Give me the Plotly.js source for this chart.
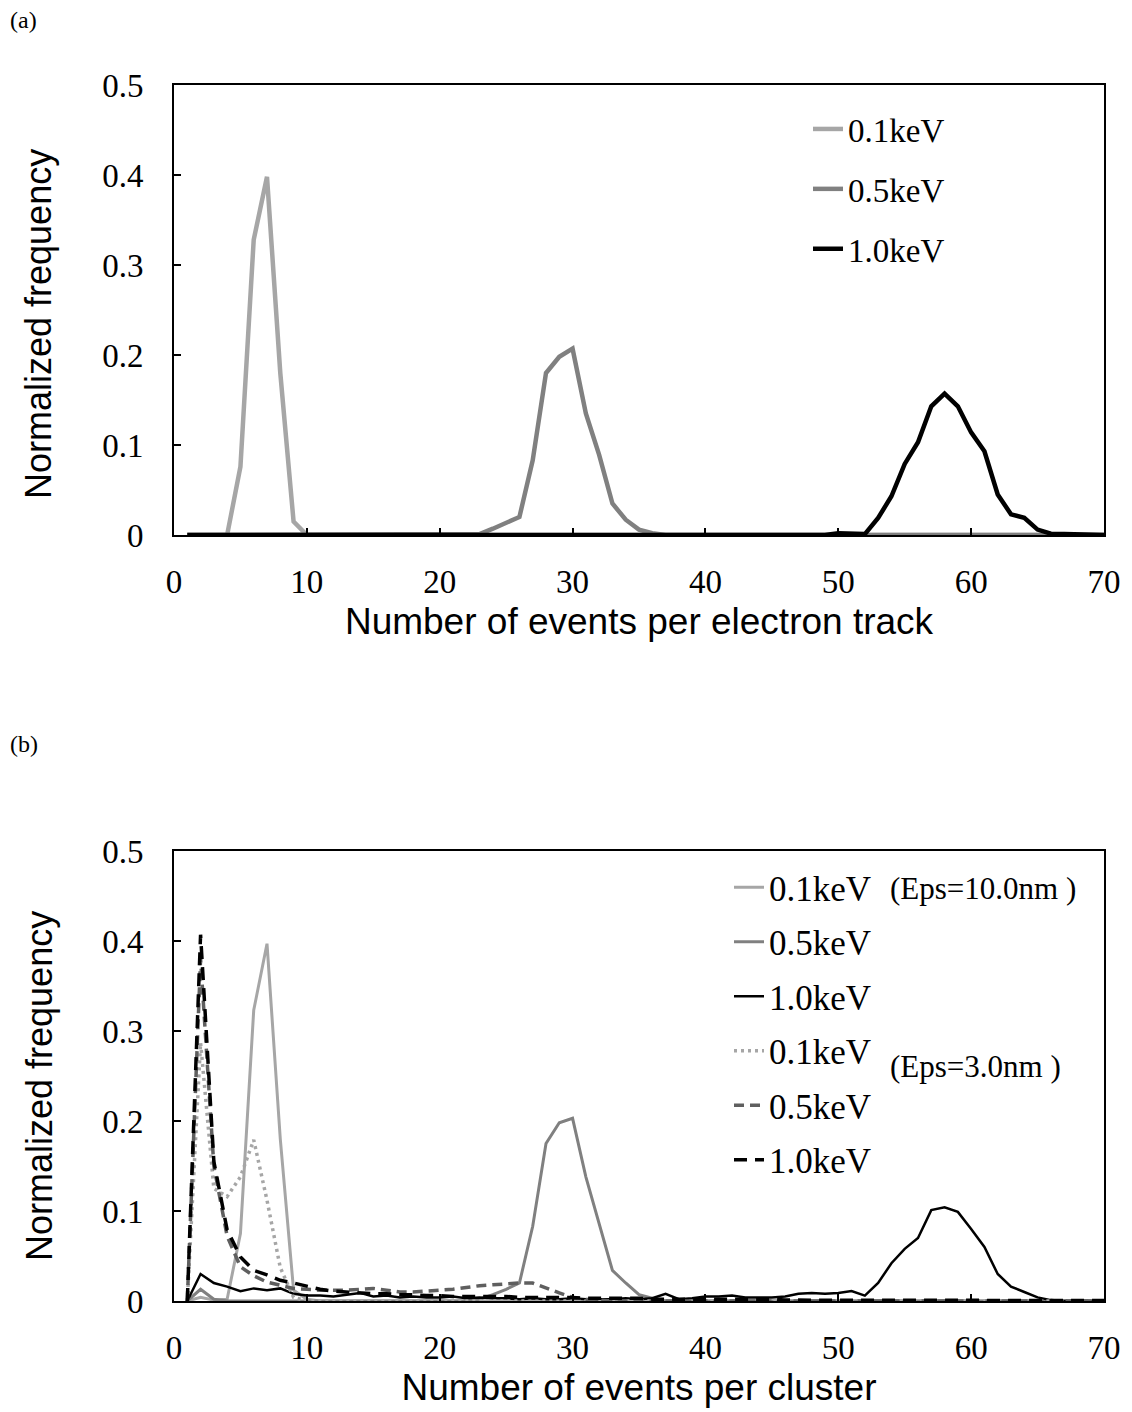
<!DOCTYPE html>
<html>
<head>
<meta charset="utf-8">
<script src="https://cdn.plot.ly/plotly-3.0.1.min.js"></script>
<style>html,body{margin:0;padding:0;background:#fff;}#chart{width:1132px;height:1412px;}</style>
</head>
<body>
<div id="chart"></div>
<script>
// x positions (number of events)
const events = [1,2,3,4,5,6,7,8,9,10,11,12,13,14,15,16,17,18,19,20,21,22,23,24,25,26,27,28,29,30,31,32,33,34,35,36,37,38,39,40,41,42,43,44,45,46,47,48,49,50,51,52,53,54,55,56,57,58,59,60,61,62,63,64,65,66,67,68,69,70];

// Panel (a): events per electron track
const a_01keV = [0,0,0,0,0.076,0.328,0.398,0.180,0.015,0, 0,0,0,0,0,0,0,0,0,0, 0,0,0,0,0,0,0,0,0,0, 0,0,0,0,0,0,0,0,0,0, 0,0,0,0,0,0,0,0,0,0, 0,0,0,0,0,0,0,0,0,0, 0,0,0,0,0,0,0,0,0,0];
const a_05keV = [0,0,0,0,0,0,0,0,0,0, 0,0,0,0,0,0,0,0,0,0, 0,0,0.001,0.007,0.013,0.020,0.083,0.180,0.198,0.207, 0.135,0.089,0.035,0.017,0.006,0.002,0,0,0,0, 0,0,0,0,0,0,0,0,0,0, 0,0,0,0,0,0,0,0,0,0, 0,0,0,0,0,0,0,0,0,0];
const a_10keV = [0,0,0,0,0,0,0,0,0,0, 0,0,0,0,0,0,0,0,0,0, 0,0,0,0,0,0,0,0,0,0, 0,0,0,0,0,0,0,0,0,0, 0,0,0,0,0,0,0,0,0,0.002, 0.001,0.001,0.019,0.043,0.079,0.103,0.143,0.157,0.143,0.114, 0.093,0.045,0.023,0.019,0.006,0.0015,0.001,0.0005,0,0];

// Panel (b): events per cluster, Eps = 10.0 nm
const b_01keV_eps10 = [0,0.004,0.001,0.002,0.075,0.323,0.397,0.180,0.012,0.002, 0,0,0,0,0,0,0,0,0,0, 0,0,0,0,0,0,0,0,0,0, 0,0,0,0,0,0,0,0,0,0, 0,0,0,0,0,0,0,0,0,0, 0,0,0,0,0,0,0,0,0,0, 0,0,0,0,0,0,0,0,0,0];
const b_05keV_eps10 = [0,0.013,0.002,0,0,0,0,0,0,0, 0,0,0,0,0,0,0,0,0,0, 0,0,0.002,0.007,0.013,0.020,0.083,0.175,0.198,0.203, 0.138,0.086,0.034,0.020,0.007,0.003,0,0,0,0, 0,0,0,0,0,0,0,0,0,0, 0,0,0,0,0,0,0,0,0,0, 0,0,0,0,0,0,0,0,0,0];
const b_10keV_eps10 = [0,0.030,0.020,0.016,0.011,0.014,0.012,0.014,0.008,0.006, 0.006,0.005,0.007,0.009,0.005,0.006,0.004,0.005,0.004,0.004, 0.005,0.003,0.004,0.003,0.003,0.002,0.003,0.002,0.002,0.003, 0.002,0.002,0.002,0.003,0.002,0.003,0.008,0.002,0.003,0.005, 0.005,0.006,0.004,0.004,0.004,0.005,0.008,0.009,0.008,0.009, 0.011,0.006,0.020,0.042,0.058,0.070,0.101,0.104,0.099,0.080, 0.060,0.030,0.016,0.010,0.004,0.001,0,0,0,0];
// Panel (b): Eps = 3.0 nm
const b_01keV_eps3 = [0,0.287,0.125,0.116,0.138,0.179,0.112,0.037,0.004,0, 0,0,0,0,0,0,0,0,0,0, 0,0,0,0,0,0,0,0,0,0, 0,0,0,0,0,0,0,0,0,0, 0,0,0,0,0,0,0,0,0,0, 0,0,0,0,0,0,0,0,0,0, 0,0,0,0,0,0,0,0,0,0];
const b_05keV_eps3 = [0,0.380,0.150,0.072,0.038,0.028,0.021,0.017,0.014,0.013, 0.012,0.012,0.012,0.013,0.014,0.012,0.010,0.010,0.011,0.012, 0.013,0.015,0.017,0.018,0.019,0.020,0.020,0.014,0.009,0.004, 0.002,0.001,0,0,0,0,0,0,0,0, 0,0,0,0,0,0,0,0,0,0, 0,0,0,0,0,0,0,0,0,0, 0,0,0,0,0,0,0,0,0,0];
const b_10keV_eps3 = [0,0.407,0.155,0.079,0.049,0.034,0.029,0.023,0.020,0.016, 0.013,0.011,0.010,0.009,0.008,0.008,0.007,0.007,0.006,0.006, 0.005,0.005,0.005,0.005,0.005,0.004,0.004,0.004,0.004,0.004, 0.003,0.003,0.003,0.003,0.003,0.002,0.002,0.002,0.002,0.002, 0.002,0.002,0.002,0.002,0.002,0.001,0.001,0.001,0.001,0.001, 0.001,0.001,0.001,0.001,0.001,0.001,0.001,0.001,0.001,0.001, 0.0005,0.0005,0.0005,0.0005,0.0005,0.0005,0.0005,0.0005,0.0005,0.0005];

const seriesNames = ['0.1keV','0.5keV','1.0keV'];
const xTitleA = 'Number of events per electron track';
const xTitleB = 'Number of events per cluster';
const yTitle = 'Normalized frequency';
const epsLabels = ['(Eps=10.0nm )', '(Eps=3.0nm )'];
const panelLabels = ['(a)', '(b)'];

const LIGHT = '#a6a6a6', MID = '#808080', DARKG = '#5f5f5f', BLACK = '#000000';
const SERIF = 'Liberation Serif, Times New Roman, serif';
const SANS = 'Liberation Sans, Arial, sans-serif';

function tr(y, name, color, width, dash, xa, ya, legend, grp) {
  return {x: events, y: y, name: name, type: 'scatter', mode: 'lines',
    line: {color: color, width: width, dash: dash},
    xaxis: xa, yaxis: ya, legend: legend, legendgroup: grp, hoverinfo: 'skip'};
}

const data = [
  tr(a_01keV, seriesNames[0], LIGHT, 4.5, 'solid', 'x', 'y', 'legend', 'a1'),
  tr(a_05keV, seriesNames[1], MID, 4.5, 'solid', 'x', 'y', 'legend', 'a2'),
  tr(a_10keV, seriesNames[2], BLACK, 4.5, 'solid', 'x', 'y', 'legend', 'a3'),
  tr(b_01keV_eps10, seriesNames[0], LIGHT, 3, 'solid', 'x2', 'y2', 'legend2', 'b1'),
  tr(b_05keV_eps10, seriesNames[1], MID, 3, 'solid', 'x2', 'y2', 'legend2', 'b2'),
  tr(b_10keV_eps10, seriesNames[2], BLACK, 2.5, 'solid', 'x2', 'y2', 'legend2', 'b3'),
  tr(b_01keV_eps3, seriesNames[0], LIGHT, 3.5, '3px,4px', 'x2', 'y2', 'legend2', 'b4'),
  tr(b_05keV_eps3, seriesNames[1], DARKG, 3.5, '10px,6px', 'x2', 'y2', 'legend2', 'b5'),
  tr(b_10keV_eps3, seriesNames[2], BLACK, 3.5, '13px,8px', 'x2', 'y2', 'legend2', 'b6')
];

const W = 1132, H = 1412;
const xdom = [174/W, 1104/W];
function xax(title, anchor) {
  return {domain: xdom, anchor: anchor, range: [0,70], tick0: 0, dtick: 10,
    ticks: 'inside', ticklen: 7, tickwidth: 2, tickcolor: '#000',
    showline: true, linewidth: 2, linecolor: '#000', mirror: true,
    showgrid: false, zeroline: false, automargin: false,
    ticklabelstandoff: 16,
    tickfont: {family: SERIF, size: 33, color: '#000'},
    title: {text: title, font: {family: SANS, size: 37, color: '#000'}, standoff: 10}};
}
function yax(dom, anchor) {
  return {domain: dom, anchor: anchor, range: [0,0.5], tick0: 0, dtick: 0.1,
    ticks: 'inside', ticklen: 7, tickwidth: 2, tickcolor: '#000',
    showline: true, linewidth: 2, linecolor: '#000', mirror: true,
    showgrid: false, zeroline: false, automargin: false,
    ticklabelstandoff: 22,
    tickfont: {family: SERIF, size: 33, color: '#000'}};
}
function ytitle(cy) {
  return {text: yTitle, xref: 'paper', yref: 'paper', x: 39/W, y: 1-cy/H, xanchor: 'center', yanchor: 'middle',
    textangle: -90, showarrow: false, font: {family: SANS, size: 36, color: '#000'}};
}

const layout = {
  width: W, height: H,
  margin: {l: 0, r: 0, t: 0, b: 0},
  paper_bgcolor: '#fff', plot_bgcolor: '#fff',
  showlegend: true,
  xaxis: xax(xTitleA, 'y'),
  yaxis: yax([1-535/H, 1-85/H], 'x'),
  xaxis2: xax(xTitleB, 'y2'),
  yaxis2: yax([1-1301/H, 1-851/H], 'x2'),
  legend: {x: 808/W, y: 1-101/H, xanchor: 'left', yanchor: 'top', traceorder: 'grouped',
    tracegroupgap: 14, bgcolor: 'rgba(0,0,0,0)', borderwidth: 0,
    font: {family: SERIF, size: 33, color: '#000'}},
  legend2: {x: 729/W, y: 1-858/H, xanchor: 'left', yanchor: 'top', traceorder: 'grouped',
    tracegroupgap: 6, bgcolor: 'rgba(0,0,0,0)', borderwidth: 0,
    font: {family: SERIF, size: 35, color: '#000'}},
  annotations: [
    ytitle(324),
    ytitle(1086),
    {text: panelLabels[0], xref: 'paper', yref: 'paper', x: 8/W, y: 1-20/H, xanchor: 'left', yanchor: 'middle', showarrow: false, font: {family: SERIF, size: 24, color: '#000'}},
    {text: panelLabels[1], xref: 'paper', yref: 'paper', x: 8/W, y: 1-744/H, xanchor: 'left', yanchor: 'middle', showarrow: false, font: {family: SERIF, size: 24, color: '#000'}},
    {text: epsLabels[0], xref: 'paper', yref: 'paper', x: 888/W, y: 1-888/H, xanchor: 'left', yanchor: 'middle', showarrow: false, font: {family: SERIF, size: 31, color: '#000'}},
    {text: epsLabels[1], xref: 'paper', yref: 'paper', x: 888/W, y: 1-1066/H, xanchor: 'left', yanchor: 'middle', showarrow: false, font: {family: SERIF, size: 31, color: '#000'}}
  ]
};

Plotly.newPlot('chart', data, layout, {staticPlot: true, displayModeBar: false});
</script>
</body>
</html>
